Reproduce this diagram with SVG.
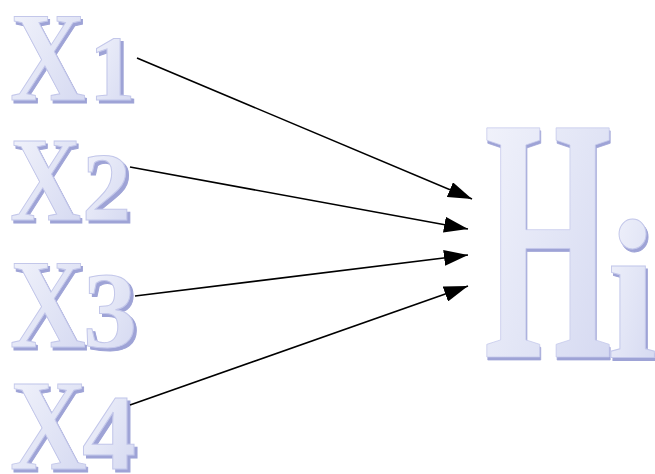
<svg xmlns="http://www.w3.org/2000/svg" width="655" height="474" viewBox="0 0 655 474">
  <defs>
    <linearGradient id="face" x1="0" y1="0" x2="1" y2="1">
      <stop offset="0" stop-color="#f4f5fc"/>
      <stop offset="0.5" stop-color="#e3e6f6"/>
      <stop offset="1" stop-color="#d2d6f0"/>
    </linearGradient>
    <filter id="depth" x="-10%" y="-10%" width="130%" height="130%">
      <feOffset in="SourceAlpha" dx="2.5" dy="2.5" result="off"/>
      <feFlood flood-color="#9ea3d6"/>
      <feComposite in2="off" operator="in" result="shadow"/>
      <feMerge>
        <feMergeNode in="shadow"/>
        <feMergeNode in="SourceGraphic"/>
      </feMerge>
    </filter>
    <marker id="arrow" viewBox="0 0 24 16" refX="24" refY="8" markerWidth="24" markerHeight="16" markerUnits="userSpaceOnUse" orient="auto">
      <path d="M0,0 L24,8 L0,16 z" fill="#000"/>
    </marker>
  </defs>
  <style>
    .fc { font-family: "Liberation Serif", "Times New Roman", serif; font-weight: bold; fill: url(#face); stroke: #c3c7ea; stroke-width: 1; filter: url(#depth); }
    .conn { stroke: #000; stroke-width: 1.6; fill: none; marker-end: url(#arrow); }
  </style>
  <rect width="655" height="474" fill="#fff"/>

  <g id="x1">
    <text class="fc" transform="translate(10,100) scale(0.82,1)" font-size="128">X</text>
    <text class="fc" x="89" y="100" font-size="93">1</text>
  </g>
  <g id="x2">
    <text class="fc" transform="translate(10,220) scale(0.82,1)" font-size="120">X</text>
    <text class="fc" x="82" y="220" font-size="98">2</text>
  </g>
  <g id="x3">
    <text class="fc" transform="translate(10,347) scale(0.82,1)" font-size="128">X</text>
    <text class="fc" x="83" y="347" font-size="108">3</text>
  </g>
  <g id="x4">
    <text class="fc" transform="translate(10,469) scale(0.82,1)" font-size="130">X</text>
    <text class="fc" x="82" y="469" font-size="108">4</text>
  </g>
  <g id="hi">
    <text class="fc" transform="translate(484,357) scale(0.47,1)" font-size="350">H</text>
    <text class="fc" transform="translate(607,357) scale(0.9,1)" font-size="200">i</text>
  </g>

  <g id="connectors">
    <line class="conn" x1="137" y1="58" x2="472" y2="199"/>
    <line class="conn" x1="130" y1="167" x2="468" y2="229"/>
    <line class="conn" x1="135" y1="296" x2="468" y2="255"/>
    <line class="conn" x1="130" y1="405" x2="468" y2="286"/>
  </g>
</svg>
